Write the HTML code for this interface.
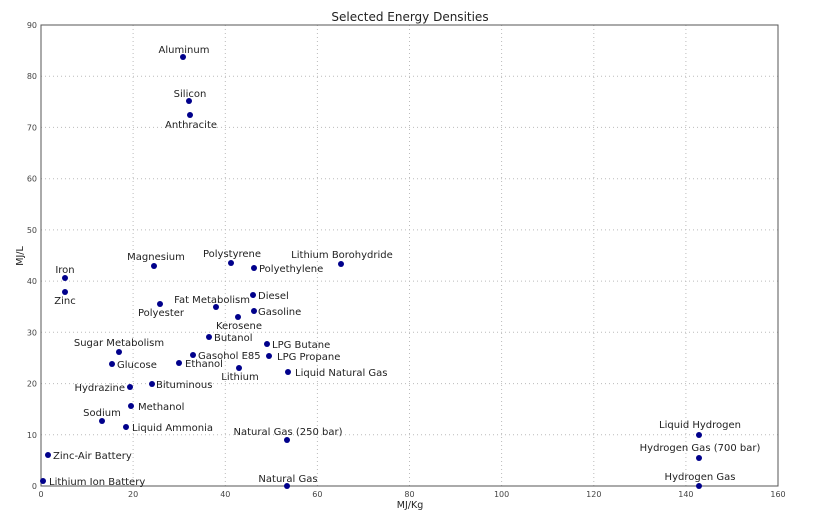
<!DOCTYPE html>
<html><head><meta charset="utf-8"><style>
html,body{margin:0;padding:0;background:#fff}
svg{display:block;font-family:"DejaVu Sans","Liberation Sans",sans-serif}
.l{font-size:10px;fill:#222}
.t{font-size:8px;fill:#444}
</style></head><body>
<svg width="819" height="512" viewBox="0 0 819 512" xmlns="http://www.w3.org/2000/svg">
<rect width="819" height="512" fill="#fff"/>
<g stroke="#bbb" stroke-width="1" stroke-dasharray="1,3">
<line x1="133.1" y1="25" x2="133.1" y2="486"/><line x1="225.3" y1="25" x2="225.3" y2="486"/>
<line x1="317.4" y1="25" x2="317.4" y2="486"/><line x1="409.5" y1="25" x2="409.5" y2="486"/>
<line x1="501.6" y1="25" x2="501.6" y2="486"/><line x1="593.8" y1="25" x2="593.8" y2="486"/>
<line x1="685.9" y1="25" x2="685.9" y2="486"/>
<line x1="41" y1="434.8" x2="778" y2="434.8"/><line x1="41" y1="383.6" x2="778" y2="383.6"/>
<line x1="41" y1="332.3" x2="778" y2="332.3"/><line x1="41" y1="281.1" x2="778" y2="281.1"/>
<line x1="41" y1="229.9" x2="778" y2="229.9"/><line x1="41" y1="178.7" x2="778" y2="178.7"/>
<line x1="41" y1="127.4" x2="778" y2="127.4"/><line x1="41" y1="76.2" x2="778" y2="76.2"/>
</g>
<rect x="41" y="25" width="737" height="461" fill="none" stroke="#555" stroke-width="1"/>
<g class="t" text-anchor="middle">
<text x="41" y="497">0</text><text x="133.1" y="497">20</text><text x="225.3" y="497">40</text>
<text x="317.4" y="497">60</text><text x="409.5" y="497">80</text><text x="501.6" y="497">100</text>
<text x="593.8" y="497">120</text><text x="685.9" y="497">140</text><text x="778" y="497">160</text>
</g>
<g class="t" text-anchor="end">
<text x="37" y="489">0</text><text x="37" y="437.8">10</text><text x="37" y="386.6">20</text>
<text x="37" y="335.3">30</text><text x="37" y="284.1">40</text><text x="37" y="232.9">50</text>
<text x="37" y="181.7">60</text><text x="37" y="130.4">70</text><text x="37" y="79.2">80</text>
<text x="37" y="28">90</text>
</g>
<text x="410" y="21" text-anchor="middle" font-size="12" fill="#222">Selected Energy Densities</text>
<text x="410" y="508" text-anchor="middle" font-size="9.5" fill="#222">MJ/Kg</text>
<text transform="translate(23,256) rotate(-90)" text-anchor="middle" font-size="9.5" fill="#222">MJ/L</text>
<g fill="#00008b">
<circle cx="183" cy="57" r="3"/><circle cx="189" cy="101" r="3"/><circle cx="190" cy="115" r="3"/>
<circle cx="154" cy="266" r="3"/><circle cx="231" cy="263" r="3"/><circle cx="254" cy="268" r="3"/>
<circle cx="341" cy="264" r="3"/><circle cx="65" cy="278" r="3"/><circle cx="65" cy="292" r="3"/>
<circle cx="216" cy="307" r="3"/><circle cx="253" cy="295" r="3"/><circle cx="160" cy="304" r="3"/>
<circle cx="254" cy="311" r="3"/><circle cx="238" cy="317" r="3"/><circle cx="209" cy="337" r="3"/>
<circle cx="267" cy="344" r="3"/><circle cx="119" cy="352" r="3"/><circle cx="193" cy="355" r="3"/>
<circle cx="269" cy="356" r="3"/><circle cx="112" cy="364" r="3"/><circle cx="179" cy="363" r="3"/>
<circle cx="239" cy="368" r="3"/><circle cx="288" cy="372" r="3"/><circle cx="130" cy="387" r="3"/>
<circle cx="152" cy="384" r="3"/><circle cx="131" cy="406" r="3"/><circle cx="102" cy="421" r="3"/>
<circle cx="126" cy="427" r="3"/><circle cx="287" cy="440" r="3"/><circle cx="48" cy="455" r="3"/>
<circle cx="43" cy="481" r="3"/><circle cx="287" cy="486" r="3"/><circle cx="699" cy="435" r="3"/>
<circle cx="699" cy="458" r="3"/><circle cx="699" cy="486" r="3"/>
</g>
<g class="l" text-anchor="middle">
<text x="184" y="53">Aluminum</text><text x="190" y="97">Silicon</text><text x="191" y="128">Anthracite</text>
<text x="156" y="260">Magnesium</text><text x="232" y="257">Polystyrene</text><text x="342" y="258">Lithium Borohydride</text>
<text x="65" y="273">Iron</text><text x="65" y="304">Zinc</text><text x="161" y="316">Polyester</text>
<text x="239" y="329">Kerosene</text><text x="119" y="346">Sugar Metabolism</text><text x="240" y="380">Lithium</text>
<text x="102" y="416">Sodium</text><text x="288" y="435">Natural Gas (250 bar)</text><text x="288" y="482">Natural Gas</text>
<text x="700" y="428">Liquid Hydrogen</text><text x="700" y="451">Hydrogen Gas (700 bar)</text><text x="700" y="480">Hydrogen Gas</text>
</g>
<g class="l" text-anchor="end">
<text x="250" y="303">Fat Metabolism</text><text x="125" y="391">Hydrazine</text>
</g>
<g class="l">
<text x="259" y="272">Polyethylene</text><text x="258" y="299">Diesel</text><text x="258" y="315">Gasoline</text>
<text x="214" y="341">Butanol</text><text x="272" y="348">LPG Butane</text><text x="198" y="359">Gasohol E85</text>
<text x="277" y="360">LPG Propane</text><text x="117" y="368">Glucose</text><text x="185" y="367">Ethanol</text>
<text x="295" y="376">Liquid Natural Gas</text><text x="156" y="388">Bituminous</text><text x="138" y="410">Methanol</text>
<text x="132" y="431">Liquid Ammonia</text><text x="53" y="459">Zinc-Air Battery</text><text x="49" y="485">Lithium Ion Battery</text>
</g>
</svg>
</body></html>
